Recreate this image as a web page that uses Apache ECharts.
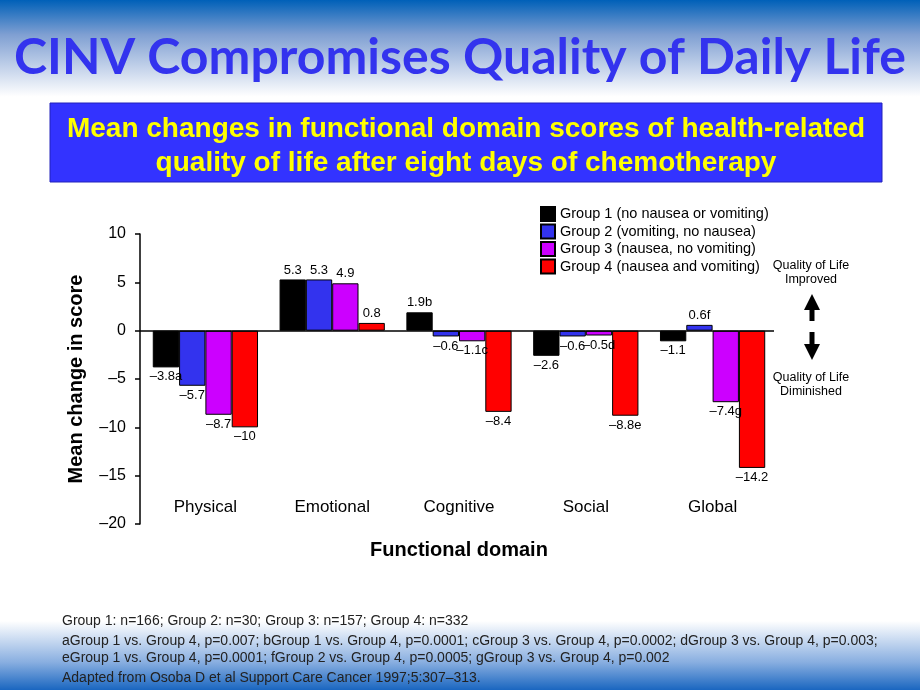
<!DOCTYPE html>
<html><head><meta charset="utf-8">
<script src="https://cdn.jsdelivr.net/npm/echarts@6/dist/echarts.min.js"></script>
<style>html,body{margin:0;padding:0;}#c{width:920px;height:690px;}</style>
</head><body><div id="c"></div>
<script>
const categories = ["Physical", "Emotional", "Cognitive", "Social", "Global"];
const groupNames = ["Group 1 (no nausea or vomiting)", "Group 2 (vomiting, no nausea)", "Group 3 (nausea, no vomiting)", "Group 4 (nausea and vomiting)"];
const group1 = [-3.8, 5.3, 1.9, -2.6, -1.1];
const group2 = [-5.7, 5.3, -0.6, -0.6, 0.6];
const group3 = [-8.7, 4.9, -1.1, -0.5, -7.4];
const group4 = [-10, 0.8, -8.4, -8.8, -14.2];
const group1Labels = ["–3.8a", "5.3", "1.9b", "–2.6", "–1.1"];
const group2Labels = ["–5.7", "5.3", "–0.6", "–0.6", "0.6f"];
const group3Labels = ["–8.7", "4.9", "–1.1c", "–0.5d", "–7.4g"];
const group4Labels = ["–10", "0.8", "–8.4", "–8.8e", "–14.2"];
const yTicks = [10, 5, 0, -5, -10, -15, -20];
const colors = ["#000000", "#3333ee", "#cc00ff", "#ff0000"];
const footnotes = [
  "Group 1: n=166; Group 2: n=30; Group 3: n=157; Group 4: n=332",
  "aGroup 1 vs. Group 4, p=0.007; bGroup 1 vs. Group 4, p=0.0001; cGroup 3 vs. Group 4, p=0.0002; dGroup 3 vs. Group 4, p=0.003;",
  "eGroup 1 vs. Group 4, p=0.0001; fGroup 2 vs. Group 4, p=0.0005; gGroup 3 vs. Group 4, p=0.002",
  "Adapted from Osoba D et al Support Care Cancer 1997;5:307–313."
];

const values = [group1, group2, group3, group4];
const labels = [group1Labels, group2Labels, group3Labels, group4Labels];
const F = "Liberation Sans, Arial, sans-serif";

const chart = echarts.init(document.getElementById('c'));
const series = values.map((vals, i) => ({
  name: groupNames[i],
  type: 'bar',
  barGap: '0%',
  barCategoryGap: '17%',
  data: vals.map(v => ({
    value: v,
    label: { position: v >= 0 ? 'top' : 'bottom' }
  })),
  itemStyle: { color: colors[i], borderColor: '#000', borderWidth: 1 },
  label: {
    show: true, fontFamily: F, fontSize: 13, color: '#000', distance: 3,
    formatter: p => labels[i][p.dataIndex]
  },
  markLine: i === 0 ? {
    silent: true, symbol: 'none', label: { show: false },
    lineStyle: { color: '#000', width: 1.5, type: 'solid' },
    data: [[{ x: 140, yAxis: 0 }, { x: 774, yAxis: 0 }]]
  } : undefined
}));

chart.setOption({
  animation: false,
  color: colors,
  grid: { left: 142, right: 144, top: 234, bottom: 166 },
  legend: {
    orient: 'vertical', left: 535, top: 201, itemWidth: 14, itemHeight: 14, itemGap: 1.5,
    icon: 'rect',
    textStyle: { fontFamily: F, fontSize: 14.5, color: '#000' },
    data: groupNames
  },
  xAxis: {
    type: 'category', data: categories,
    axisLine: { show: false, onZero: false }, axisTick: { show: false },
    axisLabel: { inside: true, margin: 8, fontFamily: F, fontSize: 17, color: '#000' },
    name: 'Functional domain', nameLocation: 'middle', nameGap: 16,
    nameTextStyle: { fontFamily: F, fontSize: 20, fontWeight: 'bold', color: '#000' }
  },
  yAxis: {
    type: 'value', min: -20, max: 10, interval: 5,
    offset: 2,
    axisLine: { show: true, lineStyle: { color: '#000', width: 1.5 } },
    axisTick: { show: true, length: 5, lineStyle: { color: '#000', width: 1.5 } },
    splitLine: { show: false },
    axisLabel: { fontFamily: F, fontSize: 16, color: '#000', margin: 14,
      formatter: v => (v < 0 ? '–' + Math.abs(v) : String(v)) },
    name: 'Mean change in score', nameLocation: 'middle', nameGap: 54,
    nameTextStyle: { fontFamily: F, fontSize: 20, fontWeight: 'bold', color: '#000' }
  },
  series: series,
  graphic: [
    { type: 'rect', z: -100, silent: true, shape: { x: 0, y: 0, width: 920, height: 690 },
      style: { fill: new echarts.graphic.LinearGradient(0, 0, 0, 1, [
        { offset: 0, color: '#0060b8' },
        { offset: 0.05, color: '#7f9fd2' },
        { offset: 0.14, color: '#ffffff' },
        { offset: 0.9, color: '#ffffff' },
        { offset: 0.96, color: '#88aee0' },
        { offset: 1, color: '#1a66c0' }
      ]) } },
    { type: 'text', left: 'center', top: 33, z: 10,
      style: { text: 'CINV Compromises Quality of Daily Life', fill: '#3333ee',
        font: 'bold 50px Lato, "Open Sans", sans-serif' } },
    { type: 'rect', shape: { x: 50, y: 103, width: 832, height: 79 },
      style: { fill: '#3333ff', stroke: '#2222bb', lineWidth: 1 } },
    { type: 'text', x: 466, y: 112, z: 10,
      style: { text: 'Mean changes in functional domain scores of health-related\nquality of life after eight days of chemotherapy',
        fill: '#ffff00', align: 'center', lineHeight: 34, font: 'bold 28px ' + F } },
    { type: 'text', x: 811, y: 259, z: 10,
      style: { text: 'Quality of Life\nImproved', fill: '#000', align: 'center', lineHeight: 14, font: '12.5px ' + F } },
    { type: 'text', x: 811, y: 371, z: 10,
      style: { text: 'Quality of Life\nDiminished', fill: '#000', align: 'center', lineHeight: 14, font: '12.5px ' + F } },
    { type: 'polygon', shape: { points: [[812, 294], [804, 310], [809.5, 310], [809.5, 321], [814.5, 321], [814.5, 310], [820, 310]] },
      style: { fill: '#000' } },
    { type: 'polygon', shape: { points: [[812, 360], [804, 344], [809.5, 344], [809.5, 332], [814.5, 332], [814.5, 344], [820, 344]] },
      style: { fill: '#000' } },
    { type: 'text', x: 62, y: 614, z: 10,
      style: { text: footnotes[0], fill: '#222', font: '14px ' + F } },
    { type: 'text', x: 62, y: 632, z: 10,
      style: { text: footnotes[1] + '\n' + footnotes[2], fill: '#222', lineHeight: 17.5, font: '14px ' + F } },
    { type: 'text', x: 62, y: 671, z: 10,
      style: { text: footnotes[3], fill: '#222', font: '14px ' + F } }
  ]
});
</script></body></html>
